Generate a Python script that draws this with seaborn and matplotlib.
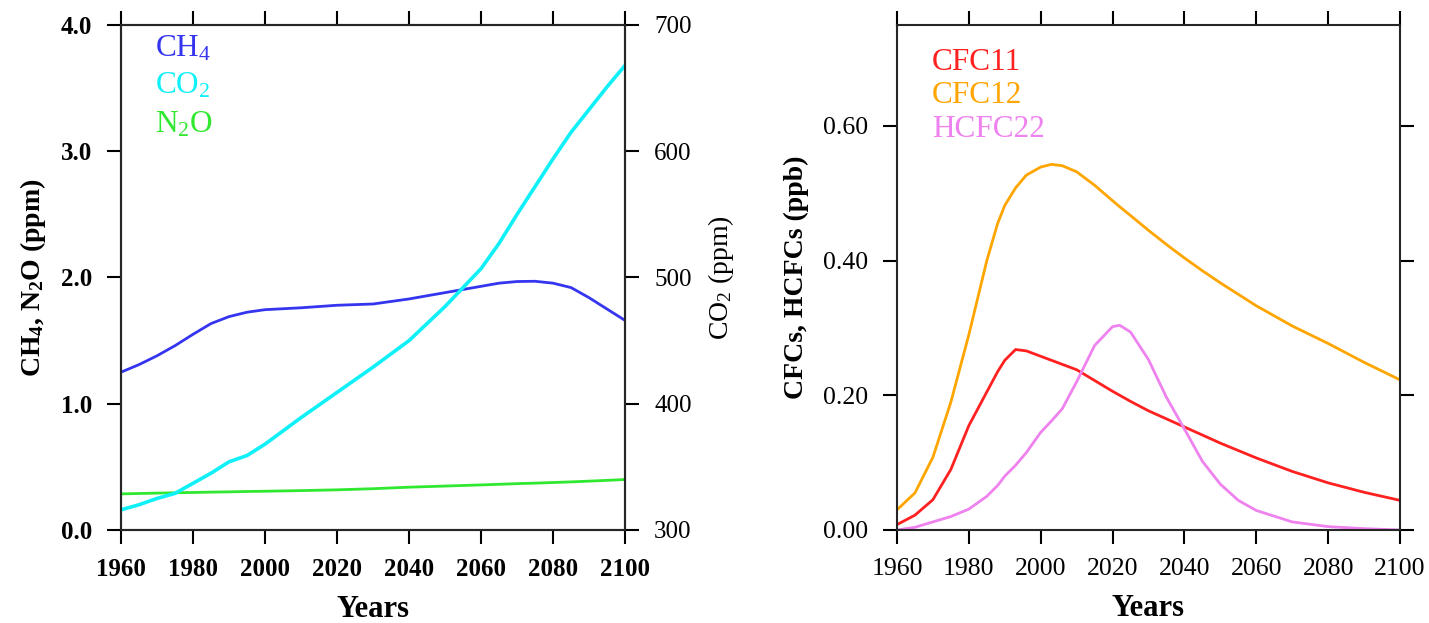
import numpy as np
import pandas as pd
import seaborn as sns
from matplotlib import pyplot as plt

# left panel: greenhouse gases
ghg_years = [1960, 1965, 1970, 1975, 1980, 1985, 1990, 1995, 2000, 2010, 2020, 2030, 2040,
             2050, 2060, 2065, 2070, 2075, 2080, 2085, 2090, 2095, 2100]
ch4 = [1.25, 1.31, 1.38, 1.46, 1.55, 1.635, 1.69, 1.725, 1.745, 1.76, 1.78, 1.79, 1.83,
       1.88, 1.93, 1.955, 1.968, 1.97, 1.955, 1.92, 1.84, 1.75, 1.66]
co2 = [316, 320, 325, 329, 337, 345, 354, 359, 368, 389, 409, 429, 450,
       477, 507, 527, 550, 572, 594, 615, 633, 651, 668]
n2o = [0.286, 0.289, 0.292, 0.295, 0.297, 0.300, 0.302, 0.305, 0.307, 0.312, 0.318, 0.327, 0.339,
       0.348, 0.357, 0.362, 0.367, 0.371, 0.376, 0.381, 0.387, 0.393, 0.40]

# right panel: CFCs / HCFCs (ppb)
cfc_years = [1960, 1965, 1970, 1975, 1980, 1985, 1988, 1990, 1993, 1996, 2000, 2003, 2006,
             2010, 2015, 2020, 2022, 2025, 2030, 2035, 2040, 2045, 2050, 2055, 2060,
             2070, 2080, 2090, 2100]
cfc11 = [0.008, 0.022, 0.045, 0.09, 0.155, 0.205, 0.235, 0.252, 0.268, 0.266, 0.258, 0.252, 0.246,
         0.238, 0.222, 0.206, 0.200, 0.191, 0.177, 0.165, 0.153, 0.141, 0.129, 0.118, 0.107,
         0.087, 0.07, 0.056, 0.044]
cfc12 = [0.03, 0.055, 0.108, 0.19, 0.29, 0.40, 0.455, 0.482, 0.508, 0.527, 0.539, 0.543, 0.541,
         0.532, 0.512, 0.489, 0.480, 0.467, 0.445, 0.424, 0.404, 0.385, 0.367, 0.35, 0.333,
         0.303, 0.277, 0.249, 0.223]
hcfc22 = [0.0, 0.004, 0.012, 0.02, 0.031, 0.05, 0.066, 0.08, 0.096, 0.115, 0.145, 0.162, 0.18,
          0.22, 0.274, 0.302, 0.304, 0.294, 0.253, 0.197, 0.15, 0.102, 0.068, 0.044, 0.029,
          0.012, 0.005, 0.002, 0.0]

year_ticks = [1960, 1980, 2000, 2020, 2040, 2060, 2080, 2100]

sns.set_theme(style='ticks')
plt.rcParams['font.family'] = ['Liberation Serif', 'DejaVu Serif']
plt.rcParams['mathtext.default'] = 'regular'
plt.rcParams['axes.linewidth'] = 1.5
plt.rcParams['axes.labelcolor'] = 'black'
plt.rcParams['text.color'] = 'black'
for k in ['xtick', 'ytick']:
    plt.rcParams[k + '.major.size'] = 10
    plt.rcParams[k + '.major.width'] = 1.5
    plt.rcParams[k + '.direction'] = 'out'
    plt.rcParams[k + '.color'] = 'black'
    plt.rcParams[k + '.labelcolor'] = 'black'

fig = plt.figure(figsize=(14.29, 6.23), dpi=100)
ax1 = fig.add_axes([0.0847, 0.1493, 0.3527, 0.8106])
ax3 = fig.add_axes([0.6277, 0.1493, 0.3520, 0.8106])

ghg = pd.DataFrame({'year': ghg_years, 'ch4': ch4, 'co2': co2, 'n2o': n2o})
cfc = pd.DataFrame({'year': cfc_years, 'cfc11': cfc11, 'cfc12': cfc12, 'hcfc22': hcfc22})

# ---- left panel
ax2 = ax1.twinx()
sns.lineplot(data=ghg, x='year', y='ch4', ax=ax1, color='#3535f0', lw=2)
sns.lineplot(data=ghg, x='year', y='n2o', ax=ax1, color='#30e830', lw=2)
sns.lineplot(data=ghg, x='year', y='co2', ax=ax2, color='#10f0f8', lw=2.6)
ax1.set_xlim(1960, 2100)
ax1.set_ylim(0, 4.0)
ax2.set_ylim(300, 700)
ax1.set_yticks([0, 1, 2, 3, 4])
ax1.set_yticklabels(['0.0', '1.0', '2.0', '3.0', '4.0'], fontweight='bold')
ax2.set_yticks([300, 400, 500, 600, 700])
ax1.set_xticks(year_ticks)
ax1.set_xticklabels([str(y) for y in year_ticks], fontweight='bold')
ax1.tick_params(axis='y', labelsize=18, pad=11)
ax1.tick_params(axis='x', labelsize=18, top=True, pad=10)
ax2.tick_params(labelsize=18, pad=11)
ax1.set_xlabel('Years', fontsize=22, fontweight='bold', labelpad=10)
ax1.set_ylabel('CH$_4$, N$_2$O (ppm)', fontsize=20, fontweight='bold', labelpad=9)
ax2.set_ylabel('CO$_2$ (ppm)', fontsize=20, labelpad=10)
for s in ax2.spines.values():
    s.set_linewidth(1.5)
for lab, c, yb in [('CH$_4$', '#3535f0', 0.937), ('CO$_2$', '#10f0f8', 0.864),
                   ('N$_2$O', '#30e830', 0.788)]:
    ax1.text(0.067, yb, lab, color=c, fontsize=22.5, transform=ax1.transAxes, va='baseline')

# ---- right panel
sns.lineplot(data=cfc, x='year', y='cfc11', ax=ax3, color='#ff2020', lw=2)
sns.lineplot(data=cfc, x='year', y='cfc12', ax=ax3, color='#ffa500', lw=2)
sns.lineplot(data=cfc, x='year', y='hcfc22', ax=ax3, color='#ee82ee', lw=2)
ax3.set_xlim(1960, 2100)
ax3.set_ylim(0, 0.75)
ax3.set_yticks([0, 0.2, 0.4, 0.6])
ax3.set_yticklabels(['0.00', '0.20', '0.40', '0.60'])
ax3.set_xticks(year_ticks)
ax3.tick_params(axis='y', labelsize=18.5, right=True, pad=11)
ax3.tick_params(axis='x', labelsize=18.5, top=True, pad=10)
ax3.set_xlabel('Years', fontsize=22, fontweight='bold', labelpad=10)
ax3.set_ylabel('CFCs, HCFCs (ppb)', fontsize=20, fontweight='bold', labelpad=10)
for lab, c, yb in [('CFC11', '#ff2020', 0.911), ('CFC12', '#ffa500', 0.845),
                   ('HCFC22', '#ee82ee', 0.779)]:
    ax3.text(0.07, yb, lab, color=c, fontsize=22.5, transform=ax3.transAxes, va='baseline')

fig.savefig('out.png', dpi=100)
